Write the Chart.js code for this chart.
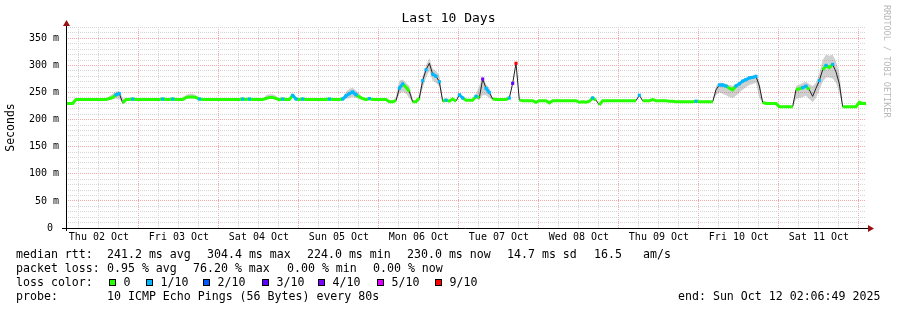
<!DOCTYPE html>
<html>
<head>
<meta charset="utf-8">
<title>Last 10 Days</title>
<script src="https://cdn.jsdelivr.net/npm/chart.js@4.4.1/dist/chart.umd.min.js"></script>
<style>
  html, body { margin: 0; padding: 0; background: #fff; }
  canvas { display: block; }
</style>
</head>
<body>
<canvas id="pingChart" width="897" height="310"></canvas>
<script>
// median rtt in ms, one value per hour, starting Thu 02 Oct 02:06:49
const medianRtt = [
  230,230,230,237,237,237,237,237,237,237,237,237,237,239,241,246,248,231,237,237,238,237,237,237,
  237,237,237,237,237,238,237,237,238,237,237,237,241,242,242,241,238,237,237,237,237,237,237,237,
  237,237,237,237,237,238,237,238,237,237,237,237,239,241,241,239,237,238,237,237,245,238,237,238,
  237,237,237,237,237,237,237,238,237,237,237,238,244,248,251,246,242,239,237,239,237,237,237,237,
  237,233,233,235,258,266,260,252,233,233,240,272,292,304,284,280,270,234,236,234,238,234,246,240,
  236,236,236,243,240,275,258,250,238,237,237,237,237,240,267,304,236,235,235,235,235,232,235,235,
  235,231,235,235,235,235,235,235,235,235,232,233,232,234,240,236,227,235,235,235,235,235,235,235,
  235,235,235,235,245,235,235,235,237,235,235,235,235,234,234,233,233,233,233,233,233,234,233,233,
  233,233,233,255,264,264,262,258,255,262,266,271,274,277,278,280,262,232,230,230,230,230,224,224,
  224,224,224,255,257,259,262,255,243,258,272,292,300,296,302,288,266,224,224,224,224,224,232,230,
  230
];

// hours with packet loss, and the loss in tenths
const lossHours = [15,16,20,29,32,40,53,55,65,68,69,71,79,83,84,85,86,87,91,100,
                   101,107,108,110,111,112,114,118,119,123,125,126,127,133,134,135,158,172,189,196,
                   197,198,201,202,203,204,205,206,207,221,222,226,228,230];
const lossTenths = [1,1,1,1,1,1,1,1,1,1,1,1,1,1,1,1,1,1,1,1,
                    1,1,1,1,1,1,1,1,1,1,4,1,1,1,3,9,1,1,1,1,
                    1,1,1,1,1,1,1,1,1,1,1,1,1,1];

// smoke (spread of the pings) where it is visible; null splits the bands
const smokeHours = [12,13,14,15,16,17,18, null, 35,36,37,38,39,40, null, 59,60,61,62,63,64, null,
  83,84,85,86,87,88,89, null, 98,99,100,101,102,103,104,105,106,107,108,109,110,111,112,113, null,
  123,124,125,126,127,128, null, 194,195,196,197,198,199,200,201,202,203,204,205,206,207,208,209, null,
  218,219,220,221,222,223,224,225,226,227,228,229,230,231,232,233];
const smokeLow = [237,236,237,239,238,231,237, null, 237,238,239,239,238,237, null, 237,238,239,239,238,237, null,
  237,238,240,242,240,238,237, null, 233,233,248,252,248,240,233,233,236,258,278,290,272,268,262,233, null,
  238,236,245,245,240,236, null, 233,245,250,248,245,242,240,244,250,255,260,264,266,268,240,231, null,
  224,238,240,242,244,238,232,240,255,270,278,278,276,268,250,224];
const smokeHigh = [237,243,248,252,253,240,237, null, 237,246,248,248,245,238, null, 237,245,247,247,244,237, null,
  239,251,257,259,254,248,241, null, 234,242,272,274,268,262,237,234,246,280,300,314,294,290,282,240, null,
  248,262,280,266,258,240, null, 235,262,268,268,266,264,262,266,270,274,277,280,281,283,272,234, null,
  226,262,265,268,270,266,262,268,285,310,320,318,320,308,285,230];

const dayLabels = ['Thu 02 Oct', 'Fri 03 Oct', 'Sat 04 Oct', 'Sun 05 Oct', 'Mon 06 Oct',
                   'Tue 07 Oct', 'Wed 08 Oct', 'Thu 09 Oct', 'Fri 10 Oct', 'Sat 11 Oct'];
const firstMidnight = -2.1136;   // Thu 02 Oct 00:00 in hours from the start
const spanHours = 240;
const yTicks = [0,10,20,30,40,50,60,70,80,90,100,110,120,130,140,150,160,170,180,
                190,200,210,220,230,240,250,260,270,280,290,300,310,320,330,340,350,360,370];
const yMax = 371;

const rttStats = ['241.2 ms avg', '304.4 ms max', '224.0 ms min', '230.0 ms now', '14.7 ms sd', '16.5', 'am/s'];
const lossStats = ['0.95 % avg', '76.20 % max', '0.00 % min', '0.00 % now'];
const lossLegend = ['0', '1/10', '2/10', '3/10', '4/10', '5/10', '9/10'];
const lossLegendTenths = [0, 1, 2, 3, 4, 5, 9];
const probeText = '10 ICMP Echo Pings (56 Bytes) every 80s';
const endText = 'end: Sun Oct 12 02:06:49 2025';

const lossColors = {0: '#26ff00', 1: '#00b8ff', 2: '#0059ff', 3: '#5e00ff', 4: '#7e00ff', 5: '#dd00ff', 9: '#ff0000'};
const FONT = "'DejaVu Sans Mono', monospace";
const MAJOR_GRID = '#f5a8a8';
const MINOR_GRID = '#d6d6d6';

const lossAt = medianRtt.map(() => 0);
lossHours.forEach((h, i) => { lossAt[h] = lossTenths[i]; });

function smokePoints(values) {
    return smokeHours.map((h, i) => h === null
        ? {x: smokeHours[i - 1] + 0.5, y: null}
        : {x: h, y: values[i]});
}
const medianPoints = medianRtt.map((v, i) => ({x: i, y: v}));

function gridStep(v) {
    return Math.round((v - firstMidnight) / 6);
}

// axes with arrows, title, watermark and the text block under the graph
const rrdExtras = {
    id: 'rrdExtras',
    afterDraw(chart) {
        const ctx = chart.ctx;
        const area = chart.chartArea;
        const yAxisX = Math.round(area.left) + 0.5;
        const xAxisY = Math.round(chart.scales.y.getPixelForValue(0)) + 0.5;
        ctx.save();
        ctx.strokeStyle = '#000';
        ctx.lineWidth = 1;
        ctx.beginPath();
        ctx.moveTo(area.left - 4, xAxisY);
        ctx.lineTo(area.right + 3, xAxisY);
        ctx.moveTo(yAxisX, area.bottom + 3);
        ctx.lineTo(yAxisX, area.top - 3);
        ctx.stroke();

        ctx.fillStyle = '#9a1010';
        ctx.beginPath();
        ctx.moveTo(area.right + 8, xAxisY);
        ctx.lineTo(area.right + 2, xAxisY - 3.5);
        ctx.lineTo(area.right + 2, xAxisY + 3.5);
        ctx.closePath();
        ctx.fill();
        ctx.beginPath();
        ctx.moveTo(yAxisX, area.top - 7);
        ctx.lineTo(yAxisX - 3.5, area.top - 1);
        ctx.lineTo(yAxisX + 3.5, area.top - 1);
        ctx.closePath();
        ctx.fill();

        // title
        ctx.fillStyle = '#000';
        ctx.font = '13px ' + FONT;
        ctx.textAlign = 'center';
        ctx.textBaseline = 'middle';
        ctx.fillText('Last 10 Days', chart.width / 2, 19);

        // watermark
        ctx.save();
        ctx.translate(886, 5);
        ctx.rotate(Math.PI / 2);
        ctx.font = '8.5px ' + FONT;
        ctx.fillStyle = '#b8b8b8';
        ctx.textAlign = 'left';
        ctx.fillText('RRDTOOL / TOBI OETIKER', 0, 0);
        ctx.restore();

        // text block
        ctx.font = '11.6px ' + FONT;
        ctx.textAlign = 'left';
        ctx.fillStyle = '#000';
        const rows = [254.5, 268.5, 282.5, 296.5];
        ctx.fillText('median rtt:', 16, rows[0]);
        [107, 207, 307, 407, 507, 594, 643].forEach((x, i) => ctx.fillText(rttStats[i], x, rows[0]));
        ctx.fillText('packet loss:', 16, rows[1]);
        [107, 193, 287, 373].forEach((x, i) => ctx.fillText(lossStats[i], x, rows[1]));
        ctx.fillText('loss color:', 16, rows[2]);
        [109, 146, 203, 262, 318, 377, 435].forEach((x, i) => {
            ctx.fillStyle = lossColors[lossLegendTenths[i]];
            ctx.fillRect(x, rows[2] - 3.5, 7, 7);
            ctx.strokeStyle = '#000';
            ctx.strokeRect(x + 0.5, rows[2] - 3, 6, 6);
            ctx.fillStyle = '#000';
            ctx.fillText(lossLegend[i], x + 14.5, rows[2]);
        });
        ctx.fillText('probe:', 16, rows[3]);
        ctx.fillText(probeText, 107, rows[3]);
        ctx.fillText(endText, 678, rows[3]);
        ctx.restore();
    }
};

Chart.defaults.font.family = FONT;
Chart.defaults.color = '#000';

new Chart(document.getElementById('pingChart'), {
    type: 'line',
    data: {
        datasets: [
            {   // smoke bottom
                data: smokePoints(smokeLow),
                borderWidth: 0,
                pointRadius: 0,
                fill: false,
                order: 3
            },
            {   // smoke top, filled down to the bottom
                data: smokePoints(smokeHigh),
                borderWidth: 0,
                pointRadius: 0,
                fill: '-1',
                backgroundColor: 'rgba(120,120,120,0.35)',
                order: 2
            },
            {   // thin dark median line
                data: medianPoints,
                borderColor: '#202020',
                borderWidth: 1,
                pointRadius: 0,
                order: 1
            },
            {   // median coloured by loss
                data: medianPoints,
                borderWidth: 3,
                borderColor: lossColors[0],
                pointStyle: 'rect',
                pointRadius: c => lossAt[c.dataIndex] > 0 ? 2.2 : 0,
                pointBackgroundColor: c => lossColors[lossAt[c.dataIndex]],
                pointBorderWidth: 0,
                segment: {
                    borderColor: c => {
                        const a = c.p0DataIndex, b = c.p1DataIndex;
                        if (Math.abs(medianRtt[b] - medianRtt[a]) > 8) return 'rgba(0,0,0,0)';
                        return lossColors[Math.min(lossAt[a], lossAt[b])];
                    }
                },
                order: 0
            }
        ]
    },
    options: {
        responsive: false,
        animation: false,
        events: [],
        layout: { padding: { top: 27, right: 31, left: 0, bottom: 0 } },
        plugins: { legend: { display: false }, tooltip: { enabled: false }, title: { display: false } },
        scales: {
            x: {
                type: 'linear',
                min: 0,
                max: spanHours,
                afterBuildTicks: scale => {
                    const ticks = [];
                    for (let k = 1; firstMidnight + 6 * k <= spanHours; k++) {
                        ticks.push({ value: firstMidnight + 6 * k });
                    }
                    scale.ticks = ticks;
                },
                afterFit: scale => { scale.height = 82; },
                ticks: {
                    autoSkip: false,
                    maxRotation: 0,
                    minRotation: 0,
                    padding: 3,
                    font: { size: 10 },
                    callback: v => {
                        const k = gridStep(v);
                        return k % 4 === 2 ? dayLabels[(k - 2) / 4] : '';
                    }
                },
                grid: {
                    drawTicks: false,
                    color: c => gridStep(c.tick.value) % 4 === 0 ? MAJOR_GRID : MINOR_GRID
                },
                border: { display: false, dash: [1, 1] }
            },
            y: {
                min: 0,
                max: yMax,
                afterBuildTicks: scale => { scale.ticks = yTicks.map(v => ({ value: v })); },
                afterFit: scale => { scale.width = 66; },
                title: {
                    display: true,
                    text: 'Seconds',
                    font: { size: 11.5 },
                    padding: { top: 4, bottom: 0 }
                },
                ticks: {
                    autoSkip: false,
                    padding: 7,
                    font: { size: 10 },
                    callback: v => v % 50 === 0 ? (v === 0 ? '0 ' : v + ' m') : ''
                },
                grid: {
                    drawTicks: false,
                    color: c => c.tick.value % 50 === 0 ? MAJOR_GRID : MINOR_GRID
                },
                border: { display: false, dash: [1, 1] }
            }
        }
    },
    plugins: [rrdExtras]
});
</script>
</body>
</html>
